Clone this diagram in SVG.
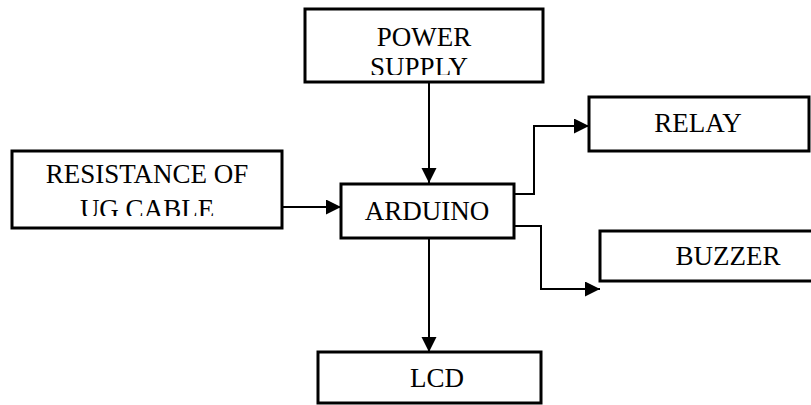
<svg xmlns="http://www.w3.org/2000/svg" width="811" height="405" viewBox="0 0 811 405">
<style>
.box{fill:#fff;stroke:#000;stroke-width:3}
.lbl{font-family:'Liberation Serif','Times New Roman',serif;font-size:27px;fill:#000;text-anchor:middle}
.con{fill:none;stroke:#000;stroke-width:2}
</style>
<defs>
<marker id="ah" markerUnits="userSpaceOnUse" markerWidth="16" markerHeight="16" refX="15" refY="7.5" orient="auto">
<path d="M0,0 L15,7.5 L0,15 Z" fill="#000"/>
</marker>
<clipPath id="cpPower"><rect x="305" y="8" width="238" height="67"/></clipPath>
<clipPath id="cpRes"><rect x="12" y="150" width="270" height="66"/></clipPath>
</defs>
<rect width="811" height="405" fill="#fff"/>
<g id="connectors">
<line class="con" x1="429" y1="83" x2="429" y2="183" marker-end="url(#ah)"/>
<line class="con" x1="282" y1="207" x2="341" y2="207" marker-end="url(#ah)"/>
<polyline class="con" points="514,194 534,194 534,126 589,126" marker-end="url(#ah)"/>
<polyline class="con" points="514,226 541,226 541,289 600,289" marker-end="url(#ah)"/>
<line class="con" x1="429" y1="238" x2="429" y2="352" marker-end="url(#ah)"/>
</g>
<g id="power">
<rect class="box" x="305" y="9" width="238" height="73"/>
<g clip-path="url(#cpPower)">
<text class="lbl" x="424" y="46">POWER</text>
<text class="lbl" x="419" y="76">SUPPLY</text>
</g>
</g>
<g id="resistance">
<rect class="box" x="12" y="151" width="270" height="77"/>
<g clip-path="url(#cpRes)">
<text class="lbl" x="147" y="183">RESISTANCE OF</text>
<text class="lbl" x="147" y="218">UG CABLE</text>
</g>
</g>
<g id="arduino">
<rect class="box" x="341" y="184" width="173" height="54"/>
<text class="lbl" x="427" y="220">ARDUINO</text>
</g>
<g id="relay">
<rect class="box" x="589" y="97" width="220" height="54"/>
<text class="lbl" x="698" y="132">RELAY</text>
</g>
<g id="buzzer">
<rect class="box" x="600" y="231" width="215" height="50"/>
<text class="lbl" x="728" y="265">BUZZER</text>
</g>
<g id="lcd">
<rect class="box" x="318" y="352" width="223" height="51"/>
<text class="lbl" x="437" y="387">LCD</text>
</g>
</svg>
